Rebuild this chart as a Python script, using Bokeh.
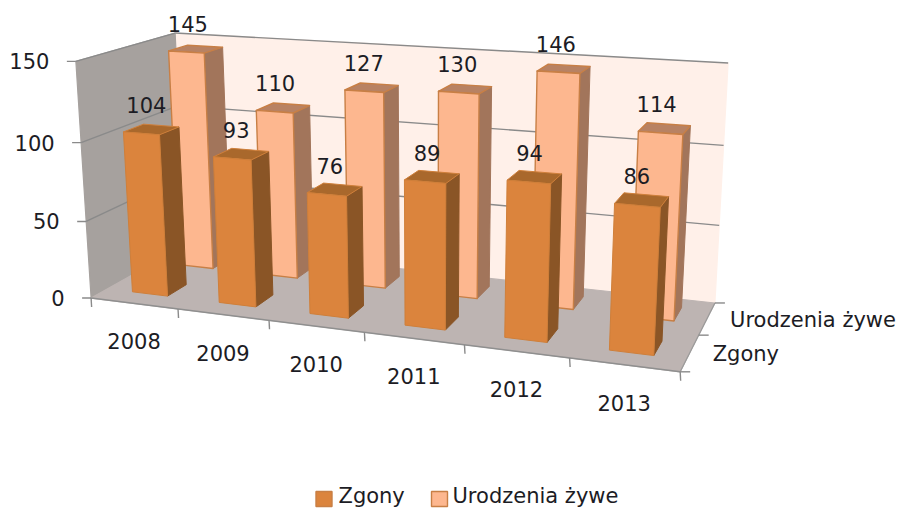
import numpy as np
from bokeh.embed import file_html
from bokeh.resources import INLINE
from bokeh.plotting import figure
from bokeh.core.properties import value

years = ["2008", "2009", "2010", "2011", "2012", "2013"]
zgony = [104, 93, 76, 89, 94, 86]
urodzenia = [145, 110, 127, 130, 146, 114]
series_names = ["Zgony", "Urodzenia żywe"]
value_ticks = [0, 50, 100, 150]
V_MAX = 150

FONT = "DejaVu Sans"
FS = "21px"
INK = "#1c1c24"

# camera calibration: frame position (along, depth, height) -> page pixel
CAL = [
    (0, 0, 0, 91.5, 296.7), (0, 0, 1/3, 85, 221), (0, 0, 2/3, 79.5, 142), (0, 0, 1, 77, 61),
    (0, 1, 1, 174, 32), (0, 1, 0, 185, 245),
    (1, 1, 1, 728, 63), (1, 1, 2/3, 723, 145), (1, 1, 1/3, 718, 225), (1, 1, 0, 714, 303),
    (1, 0, 0, 680, 370), (1, .5, 0, 700, 333),
    (1/6, 0, 0, 177, 309), (2/6, 0, 0, 269, 320), (3/6, 0, 0, 363, 332.7),
    (4/6, 0, 0, 464, 345), (5/6, 0, 0, 568, 358),
]
rows, rhs = [], []
for u, d, h, X, Y in CAL:
    rows.append([u, d, h, 1, 0, 0, 0, 0, -X*u, -X*d, -X*h]); rhs.append(X)
    rows.append([0, 0, 0, 0, u, d, h, 1, -Y*u, -Y*d, -Y*h]); rhs.append(Y)
M = np.append(np.linalg.lstsq(np.array(rows, float), np.array(rhs, float), rcond=None)[0], 1).reshape(3, 4)


def P(u, d, h):
    q = M @ np.array([u, d, h, 1.0])
    return q[0] / q[2], q[1] / q[2]


def poly(pts):
    xy = [P(*pt) for pt in pts]
    return [a for a, _ in xy], [b for _, b in xy]


W, H = 899, 509
p = figure(width=W, height=H, x_range=(0, W), y_range=(H, 0),
           output_backend="svg", toolbar_location=None, min_border=0)
p.axis.visible = False
p.grid.visible = False
p.outline_line_color = None
p.background_fill_color = "white"
p.border_fill_color = "white"


def face(pts, fill, line=None, lw=1.2):
    xs, ys = poly(pts)
    p.patch(xs, ys, fill_color=fill, line_color=line or fill, line_width=lw, line_join="round")


def seg(a, b, color="#8a8a8a", lw=1.4):
    xs, ys = poly([a, b])
    p.line(xs, ys, line_color=color, line_width=lw)


# walls and floor
face([(0, 1, 0), (1, 1, 0), (1, 1, 1), (0, 1, 1)], "#FFF0E9")
face([(0, 0, 0), (0, 1, 0), (0, 1, 1), (0, 0, 1)], "#A6A19E")
face([(0, 0, 0), (1, 0, 0), (1, 1, 0), (0, 1, 0)], "#BDB4B2")

# gridlines
for t in value_ticks[1:]:
    h = t / V_MAX
    seg((0, 0, h), (0, 1, h))
    seg((0, 1, h), (1, 1, h))
seg((0, 0, 0), (1, 0, 0), "#8f8f8f", 1.4)
seg((1, 0, 0), (1, 1, 0), "#9a9a9a", 1.2)

# value axis ticks and labels
for t in value_ticks:
    x, y = P(0, 0, t / V_MAX)
    p.line([x - 9, x], [y, y], line_color="#8a8a8a", line_width=1.4)
    p.text([x - 26.5], [y], text=[str(t)], text_font=value(FONT), text_font_size=FS,
           text_align="right", text_baseline="middle", text_color=INK)

# category ticks and labels
n = len(years)
for i in range(n + 1):
    x, y = P(i / n, 0, 0)
    p.line([x, x + 0.5], [y, y + 9], line_color="#8a8a8a", line_width=1.4)
for i, yr in enumerate(years):
    x, y = P((i + .5) / n, 0, 0)
    p.text([x], [y + 38], text=[yr], text_font=value(FONT), text_font_size=FS,
           text_align="center", text_baseline="middle", text_color=INK)

# depth ticks and labels
for d in (0, .5, 1):
    x, y = P(1, d, 0)
    p.line([x, x + 10], [y, y], line_color="#8a8a8a", line_width=1.4)
for k, name in enumerate(series_names):
    x, y = P(1, (k + .5) / 2, 0)
    p.text([x + 23], [y + 1], text=[name], text_font=value(FONT), text_font_size=FS,
           text_align="left", text_baseline="middle", text_color=INK)


def bars(vals, d0, d1, width, front, side, top, line, lw):
    for i, v in enumerate(vals):
        c = (i + .5) / n
        u0, u1 = c - width / 2 / n, c + width / 2 / n
        h = v / V_MAX
        face([(u1, d0, 0), (u1, d1, 0), (u1, d1, h), (u1, d0, h)], side, side, 1)
        face([(u0, d0, h), (u1, d0, h), (u1, d1, h), (u0, d1, h)], top, line, lw)
        face([(u0, d0, 0), (u1, d0, 0), (u1, d0, h), (u0, d0, h)], front, line, lw)


D_BACK = (.66, .87)
D_FRONT = (.16, .36)
bars(urodzenia, *D_BACK, .42, "#FDB78F", "#A2755B", "#B88263", "#C87F45", 1.4)
bars(zgony, *D_FRONT, .41, "#DB843D", "#8A5526", "#A9682C", "#CF7F3A", 1.0)


def labels(vals, d0, d1, dx, dy):
    for i, v in enumerate(vals):
        x, y = P((i + .5) / n, (d0 + d1) / 2, v / V_MAX)
        p.text([x + dx], [y + dy], text=[str(v)], text_font=value(FONT), text_font_size=FS,
               text_align="center", text_baseline="middle", text_color=INK)


labels(urodzenia, *D_BACK, -8, -25)
labels(zgony, *D_FRONT, -5, -24)

# legend
for (sw_x, txt_x, name, fill, line) in [(323.5, 338, series_names[0], "#DB843D", "#C87F45"),
                                        (439, 452, series_names[1], "#FDB78F", "#C87F45")]:
    p.rect([sw_x], [498.5], width=16, height=15, fill_color=fill, line_color=line, line_width=1.4)
    p.text([txt_x], [495.5], text=[name], text_font=value(FONT), text_font_size=FS,
           text_align="left", text_baseline="middle", text_color=INK)

open("out.html", "w").write(file_html(p, INLINE))
